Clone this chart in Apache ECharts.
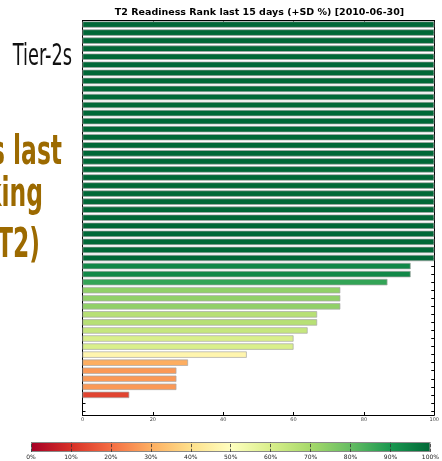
<!DOCTYPE html>
<html><head><meta charset="utf-8">
<script src="https://cdn.jsdelivr.net/npm/echarts@6/dist/echarts.min.js"></script>
<style>html,body{margin:0;padding:0;background:#fff}#c{width:442px;height:461px}</style>
</head><body><div id="c"></div>
<script>
// ---- data ----
const titleText = 'T2 Readiness Rank last 15 days (+SD %) [2010-06-30]';
const sites = ['1','2','3','4','5','6','7','8','9','10','11','12','13','14','15','16','17','18','19','20',
  '21','22','23','24','25','26','27','28','29','30','31','32','33','34','35','36','37','38','39','40',
  '41','42','43','44','45','46','47','48','49'];
const readiness = [100,100,100,100,100,100,100,100,100,100,
  100,100,100,100,100,100,100,100,100,100,
  100,100,100,100,100,100,100,100,100,100,
  93.3,93.3,86.7,73.3,73.3,73.3,66.7,66.7,64,60,60,46.7,30,26.7,26.7,26.7,13.3,null,null];
const xTicks = [0,20,40,60,80,100];
const cbTicks = [0,10,20,30,40,50,60,70,80,90,100];
const RdYlGn = ['#a50026','#d73027','#f46d43','#fdae61','#fee08b','#ffffbf','#d9ef8b','#a6d96a','#66bd63','#1a9850','#006837'];

function hex(c){return [parseInt(c.slice(1,3),16),parseInt(c.slice(3,5),16),parseInt(c.slice(5,7),16)];}
function colorFor(v){
  const t=Math.max(0,Math.min(1,v/100))*10;
  const i=Math.min(9,Math.floor(t)); const f=t-i;
  const a=hex(RdYlGn[i]), b=hex(RdYlGn[i+1]);
  return 'rgb('+a.map((x,k)=>Math.round(x+(b[k]-x)*f)).join(',')+')';
}

const chart = echarts.init(document.getElementById('c'), null, {renderer:'canvas'});
const frameAxisX = (pos, showLabel) => ({
  gridIndex:0, type:'value', min:xTicks[0], max:xTicks[xTicks.length-1], interval:xTicks[1]-xTicks[0], position:pos,
  axisLine:{show:true, onZero:false, lineStyle:{color:'#000', width:1}},
  axisTick:{show:true, inside:true, length:3, lineStyle:{color:'#000', width:1}},
  axisLabel:{show:showLabel, fontSize:5, color:'#444', margin:2, fontFamily:'DejaVu Sans'},
  splitLine:{show:false}
});
const frameAxisY = (pos) => ({
  gridIndex:0, type:'category', data:sites, inverse:true, position:pos,
  axisLine:{show:true, onZero:false, lineStyle:{color:'#000', width:1}},
  axisTick:{show:true, inside:true, alignWithLabel:true, interval:0, length:3, lineStyle:{color:'#000', width:1}},
  axisLabel:{show:false, interval:0}
});
const slideFont = '"Liberation Sans Narrow", "DejaVu Sans Condensed", sans-serif';

const option = {
  animation:false,
  backgroundColor:'#fff',
  grid:[{left:82.5, top:20.5, width:354, height:394.5},
        {left:31, top:442, width:403, height:10}],
  xAxis:[
    frameAxisX('bottom', true),
    frameAxisX('top', false),
    {gridIndex:1, type:'value', min:cbTicks[0], max:cbTicks[cbTicks.length-1], interval:cbTicks[1]-cbTicks[0], z:5,
     axisLine:{show:false},
     axisTick:{show:true, inside:true, length:10, lineStyle:{color:'#333', type:'dashed', width:0.8}},
     axisLabel:{formatter:'{value}%', fontSize:6, color:'#222', margin:2, fontFamily:'DejaVu Sans'},
     splitLine:{show:false}}
  ],
  yAxis:[
    frameAxisY('left'),
    frameAxisY('right'),
    {gridIndex:1, type:'category', data:['scale'], axisLine:{show:false}, axisTick:{show:false}, axisLabel:{show:false}}
  ],
  series:[
    {type:'bar', xAxisIndex:0, yAxisIndex:0, barWidth:'79%',
     data: readiness.map(v => v==null ? null : {value:v, itemStyle:{color:colorFor(v)}}),
     itemStyle:{borderColor:'#a8a8a8', borderWidth:0.7}},
    {type:'bar', xAxisIndex:2, yAxisIndex:2, barWidth:'100%', silent:true,
     data:[cbTicks[cbTicks.length-1]],
     itemStyle:{color:new echarts.graphic.LinearGradient(0,0,1,0, RdYlGn.map((c,i)=>({offset:i/10, color:c}))),
                borderColor:'#888', borderWidth:1}}
  ],
  graphic:[
    {type:'text', x:259.5, y:13, style:{text:titleText, font:'bold 9.5px "DejaVu Sans"', fill:'#000', align:'center', verticalAlign:'middle'}},
    {type:'text', x:72, y:57, scaleX:0.66, style:{text:'Tier-2s', font:'30px '+slideFont, fill:'#111', align:'right', verticalAlign:'middle'}},
    {type:'text', x:62, y:154, scaleX:0.65, style:{text:'s last', font:'bold 40px '+slideFont, fill:'#9c6a00', align:'right', verticalAlign:'middle'}},
    {type:'text', x:43, y:196, scaleX:0.65, style:{text:'king', font:'bold 40px '+slideFont, fill:'#9c6a00', align:'right', verticalAlign:'middle'}},
    {type:'text', x:40, y:247, scaleX:0.65, style:{text:'T2)', font:'bold 40px '+slideFont, fill:'#9c6a00', align:'right', verticalAlign:'middle'}}
  ]
};
chart.setOption(option);
</script>
</body></html>
